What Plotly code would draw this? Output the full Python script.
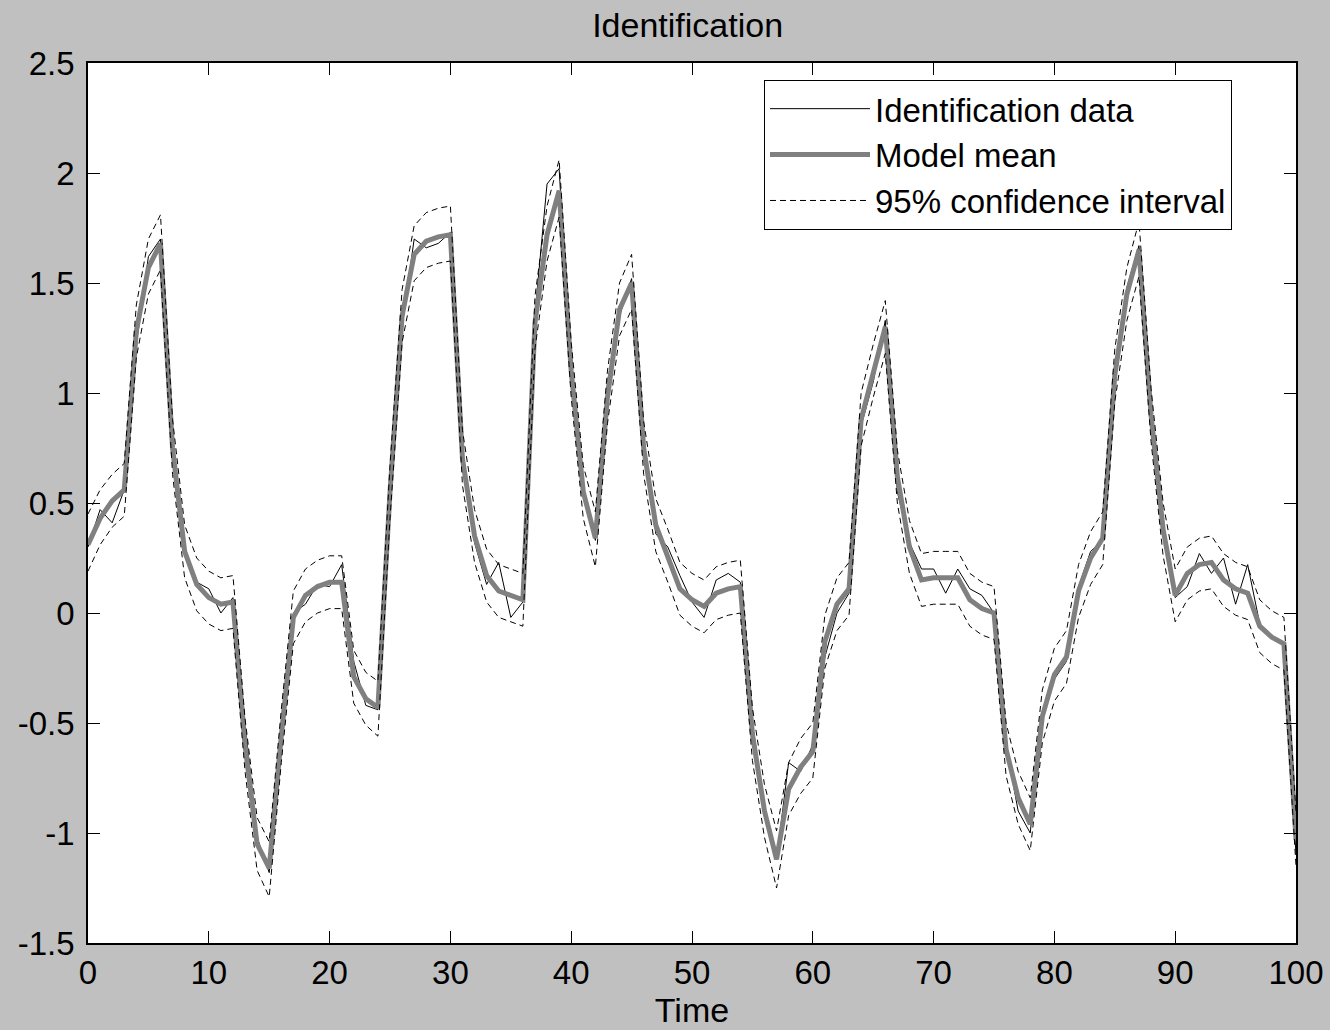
import plotly.graph_objects as go

time = list(range(101))

model_mean = [
    0.31, 0.43, 0.51, 0.56, 1.28, 1.57, 1.68, 0.75, 0.28, 0.13,
    0.07, 0.04, 0.05, -0.60, -1.05, -1.16, -0.56, -0.02, 0.08, 0.12,
    0.14, 0.14, -0.29, -0.39, -0.43, 0.55, 1.35, 1.63, 1.69, 1.71,
    1.72, 0.70, 0.35, 0.17, 0.10, 0.08, 0.06, 1.32, 1.72, 1.92,
    1.10, 0.55, 0.34, 0.98, 1.38, 1.50, 0.75, 0.40, 0.26, 0.11,
    0.06, 0.03, 0.09, 0.11, 0.12, -0.55, -0.90, -1.12, -0.80, -0.70,
    -0.63, -0.13, 0.04, 0.11, 0.88, 1.10, 1.30, 0.62, 0.30, 0.15,
    0.16, 0.16, 0.16, 0.06, 0.02, 0.00, -0.62, -0.84, -0.96, -0.47,
    -0.28, -0.20, 0.10, 0.25, 0.34, 1.08, 1.45, 1.65, 0.90, 0.38,
    0.08, 0.18, 0.22, 0.23, 0.15, 0.11, 0.09, -0.06, -0.11, -0.14,
    -1.03,
]

ident_data = [
    0.30, 0.47, 0.41, 0.56, 1.22, 1.62, 1.70, 0.72, 0.30, 0.14,
    0.11, 0.00, 0.07, -0.50, -1.02, -1.18, -0.55, 0.00, 0.04, 0.13,
    0.12, 0.22, -0.22, -0.42, -0.44, 0.50, 1.30, 1.70, 1.66, 1.68,
    1.73, 0.72, 0.32, 0.13, 0.23, -0.02, 0.05, 1.36, 1.95, 2.02,
    1.08, 0.56, 0.33, 1.05, 1.35, 1.52, 0.80, 0.36, 0.30, 0.17,
    0.05, -0.02, 0.15, 0.18, 0.14, -0.50, -0.88, -1.12, -0.68, -0.72,
    -0.60, -0.20, 0.00, 0.09, 0.85, 1.05, 1.33, 0.55, 0.32, 0.20,
    0.20, 0.09, 0.20, 0.11, 0.08, 0.00, -0.60, -0.90, -1.00, -0.45,
    -0.30, -0.22, 0.12, 0.28, 0.33, 1.10, 1.48, 1.67, 0.92, 0.35,
    0.07, 0.12, 0.27, 0.18, 0.25, 0.04, 0.22, -0.05, -0.10, -0.15,
    -1.10,
]

ci_upper = [
    0.45, 0.56, 0.63, 0.68, 1.40, 1.70, 1.81, 0.88, 0.40, 0.25,
    0.19, 0.16, 0.17, -0.48, -0.93, -1.04, -0.44, 0.10, 0.20, 0.24,
    0.26, 0.26, -0.17, -0.27, -0.31, 0.67, 1.47, 1.76, 1.82, 1.84,
    1.85, 0.83, 0.47, 0.29, 0.22, 0.20, 0.18, 1.44, 1.85, 2.06,
    1.23, 0.67, 0.46, 1.10, 1.50, 1.63, 0.87, 0.52, 0.38, 0.23,
    0.18, 0.15, 0.21, 0.23, 0.24, -0.43, -0.78, -0.99, -0.68, -0.57,
    -0.50, -0.01, 0.16, 0.23, 1.00, 1.22, 1.42, 0.74, 0.42, 0.27,
    0.28, 0.28, 0.28, 0.18, 0.14, 0.12, -0.50, -0.72, -0.84, -0.35,
    -0.16, -0.08, 0.22, 0.37, 0.46, 1.20, 1.57, 1.78, 1.02, 0.50,
    0.20, 0.30, 0.34, 0.35, 0.27, 0.23, 0.21, 0.06, 0.01, -0.02,
    -0.91,
]

ci_lower = [
    0.19, 0.31, 0.39, 0.44, 1.16, 1.45, 1.56, 0.63, 0.16, 0.01,
    -0.05, -0.08, -0.07, -0.72, -1.17, -1.29, -0.68, -0.14, -0.04, 0.00,
    0.02, 0.02, -0.41, -0.51, -0.56, 0.43, 1.23, 1.51, 1.57, 1.59,
    1.60, 0.58, 0.23, 0.05, -0.02, -0.04, -0.06, 1.20, 1.60, 1.80,
    0.98, 0.43, 0.21, 0.86, 1.26, 1.38, 0.63, 0.28, 0.14, -0.01,
    -0.06, -0.09, -0.03, -0.01, 0.00, -0.67, -1.02, -1.25, -0.92, -0.82,
    -0.75, -0.25, -0.08, -0.01, 0.76, 0.98, 1.18, 0.50, 0.18, 0.03,
    0.04, 0.04, 0.04, -0.06, -0.10, -0.12, -0.74, -0.96, -1.08, -0.59,
    -0.40, -0.32, -0.02, 0.13, 0.22, 0.96, 1.33, 1.53, 0.78, 0.26,
    -0.04, 0.06, 0.10, 0.11, 0.03, -0.01, -0.03, -0.18, -0.23, -0.26,
    -1.15,
]

x_ticks = [0, 10, 20, 30, 40, 50, 60, 70, 80, 90, 100]
y_ticks = [-1.5, -1, -0.5, 0, 0.5, 1, 1.5, 2, 2.5]
y_tick_text = ["-1.5", "-1", "-0.5", "0", "0.5", "1", "1.5", "2", "2.5"]

FONT = "Liberation Sans, Arial, Helvetica, sans-serif"

fig = go.Figure()
fig.add_trace(go.Scatter(x=time, y=ident_data, mode="lines", name="Identification data",
                         line=dict(color="black", width=1)))
fig.add_trace(go.Scatter(x=time, y=model_mean, mode="lines", name="Model mean",
                         line=dict(color="#808080", width=5)))
fig.add_trace(go.Scatter(x=time, y=ci_upper, mode="lines", name="95% confidence interval",
                         line=dict(color="black", width=1, dash="6px,4px")))
fig.add_trace(go.Scatter(x=time, y=ci_lower, mode="lines", name="95% confidence interval",
                         showlegend=False, line=dict(color="black", width=1, dash="6px,4px")))

fig.update_layout(
    width=1330, height=1030,
    paper_bgcolor="#c0c0c0", plot_bgcolor="white",
    margin=dict(l=88, r=34, t=63, b=87),
    font=dict(family=FONT, size=33, color="black"),
    title=dict(text="Identification", x=0.517, xanchor="center", y=0.976, yanchor="middle",
               font=dict(family=FONT, size=34, color="black")),
    showlegend=True,
    legend=dict(x=0.5596, y=0.981, xanchor="left", yanchor="top",
                bgcolor="white", bordercolor="black", borderwidth=1,
                font=dict(family=FONT, size=33, color="black"),
                itemwidth=100, tracegroupgap=0),
)
fig.update_xaxes(range=[0, 100], tickvals=x_ticks, ticks="inside", ticklen=12, tickcolor="black",
                 showline=True, linecolor="black", linewidth=1.5, mirror="ticks",
                 showgrid=False, zeroline=False, automargin=False,
                 title=dict(text="Time", standoff=2, font=dict(family=FONT, size=34)),
                 tickfont=dict(family=FONT, size=33))
fig.update_yaxes(range=[-1.5, 2.5], tickvals=y_ticks, ticktext=y_tick_text, ticks="inside", ticklen=12,
                 tickcolor="black", showline=True, linecolor="black", linewidth=1.5, mirror="ticks",
                 showgrid=False, zeroline=False, automargin=False, ticklabelstandoff=5,
                 tickfont=dict(family=FONT, size=33))

fig.write_html("out.html", config={"displayModeBar": False},
               post_script="document.body.style.margin='0px';")
